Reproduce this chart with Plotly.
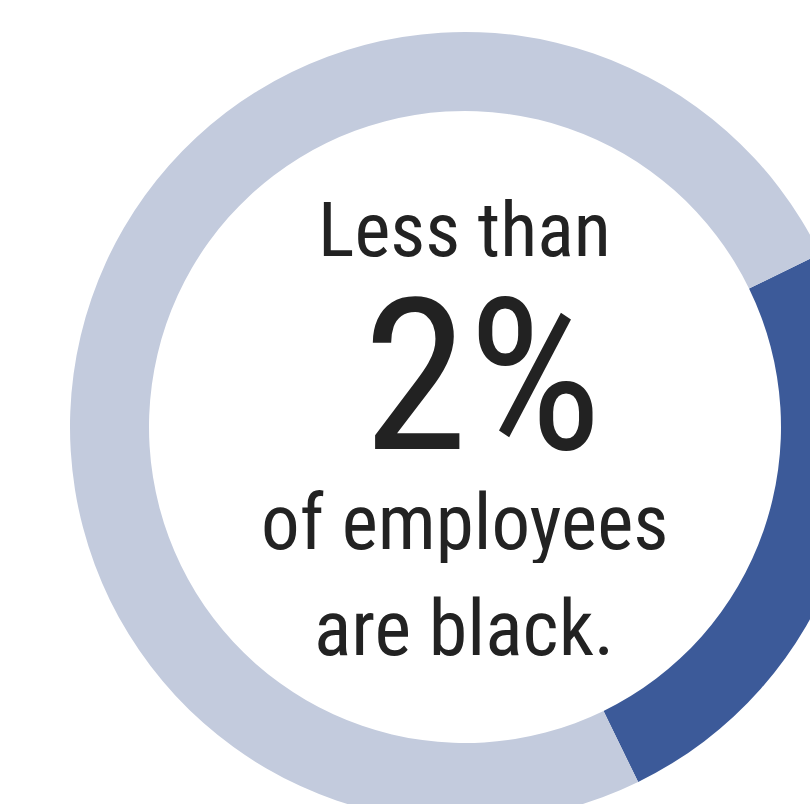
import plotly.graph_objects as go

# Data
labels = ["Black employees", "Other employees"]
values = [25, 75]
colors = ["#3c5a99", "#c3cbdd"]
text_lines = ["Less than", "2%", "of employees", "are black."]

W, H = 930, 854
FONT = "Roboto Condensed, Liberation Sans Narrow, DejaVu Sans Condensed, Roboto, sans-serif"

fig = go.Figure(go.Pie(
    labels=labels,
    values=values,
    hole=0.8,
    sort=False,
    direction="clockwise",
    rotation=64,
    marker=dict(colors=colors, line=dict(width=0)),
    textinfo="none",
    hoverinfo="label+percent",
    showlegend=False,
    domain=dict(x=[70 / W, 860 / W], y=[32 / H, 822 / H]),
))

# text: (font size, x pixel of centre, y pixel of centre, box height)
placements = [(76.5, 464, 230, 80), (212, 482, 376, 170), (77, 464, 523, 80), (78, 464, 628, 80)]
for line, (size, xpx, ypx, hgt) in zip(text_lines, placements):
    fig.add_annotation(
        text=line, x=xpx / W, y=1 - ypx / H, xref="paper", yref="paper",
        xanchor="center", yanchor="middle", showarrow=False,
        height=hgt, valign="middle",
        font=dict(family=FONT, size=size, color="#222222"),
    )

fig.update_layout(
    width=W, height=H,
    margin=dict(l=0, r=0, t=0, b=0),
    paper_bgcolor="white", plot_bgcolor="white",
)

fig.write_html(
    "out.html",
    config={"displayModeBar": False},
    post_script="document.body.style.margin='0';document.body.style.overflow='hidden';document.documentElement.style.overflow='hidden';",
)
